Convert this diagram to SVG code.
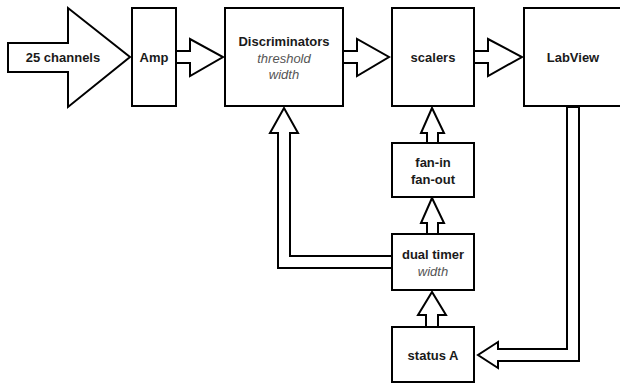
<svg xmlns="http://www.w3.org/2000/svg" width="620" height="385" viewBox="0 0 620 385">
<style>
.box{fill:#fff;stroke:#000;stroke-width:2}
.arr{fill:#fff;stroke:#000;stroke-width:2;stroke-linejoin:miter}
.t{font-family:"Liberation Sans",Arial,sans-serif;font-size:13px;font-weight:bold;fill:#1a1a1a;text-anchor:middle}
.i{font-family:"Liberation Sans",Arial,sans-serif;font-size:13px;font-style:italic;fill:#555;text-anchor:middle}
</style>
<rect width="620" height="385" fill="#fff"/>
<g id="connectors">
<polygon class="arr" points="8,43 68,43 68,8 130,57 68,107 68,72 8,72"/>
<polygon class="arr" points="176,51 190,51 190,39 223,57 190,76 190,63 176,63"/>
<polygon class="arr" points="343,51 357,51 357,39 389,57 357,76 357,63 343,63"/>
<polygon class="arr" points="474,51 488,51 488,39 522,57 488,76 488,63 474,63"/>
<polygon class="arr" points="427,143 427,133 421,133 432,108 444,133 438,133 438,143"/>
<polygon class="arr" points="427,234 427,223 421,223 432,198 444,223 438,223 438,234"/>
<polygon class="arr" points="426,327 426,315 418,315 432,292 446,315 438,315 438,327"/>
<polygon class="arr" points="392,256 290,256 290,133 298,133 284,108 270,133 278,133 278,268 392,268"/>
<polygon class="arr" points="567,107 567,349 498,349 498,342 478,355 498,368 498,361 579,361 579,107"/>
<text class="t" x="63" y="62">25 channels</text>
</g>
<g id="amp"><rect class="box" x="132" y="8" width="44" height="98"/><text class="t" x="154" y="62">Amp</text></g>
<g id="disc"><rect class="box" x="225" y="8" width="118" height="98"/>
<text class="t" x="284" y="46">Discriminators</text>
<text class="i" x="284" y="63">threshold</text>
<text class="i" x="284" y="79">width</text></g>
<g id="scalers"><rect class="box" x="392" y="8" width="82" height="98"/><text class="t" x="433" y="62">scalers</text></g>
<g id="labview"><rect class="box" x="524" y="8" width="100" height="98"/><text class="t" x="573" y="62">LabView</text></g>
<g id="fanin"><rect class="box" x="392" y="143" width="82" height="54"/>
<text class="t" x="433" y="167">fan-in</text>
<text class="t" x="433" y="184">fan-out</text></g>
<g id="timer"><rect class="box" x="392" y="234" width="82" height="56"/>
<text class="t" x="433" y="259">dual timer</text>
<text class="i" x="433" y="276">width</text></g>
<g id="status"><rect class="box" x="392" y="327" width="82" height="55"/>
<text class="t" x="433" y="360">status A</text></g>
</svg>
